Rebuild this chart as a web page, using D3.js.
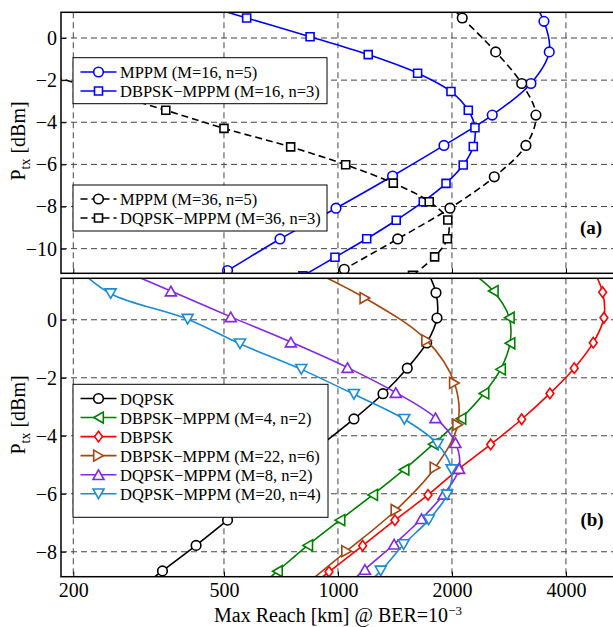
<!DOCTYPE html>
<html><head><meta charset="utf-8">
<script src="https://cdn.jsdelivr.net/npm/d3@7"></script>
<style>body{margin:0;background:#fff} svg{display:block;font-family:"Liberation Serif","Times New Roman",serif}</style>
</head><body><svg id="c" width="613" height="627"></svg>
<script>
// ---------- data ----------
const xTicks = [200, 500, 1000, 2000, 4000];
const yTicksA = [0, -2, -4, -6, -8, -10];
const yTicksB = [0, -2, -4, -6, -8];

// panel (a): power [dBm] and max reach [km]
const mppm16P = [2.29, 0.79, -0.66, -2.16, -3.66, -5.1, -6.55, -8.08, -9.54, -11.04, -12.5];
const mppm16R = [3117, 3499, 3614, 3233, 2555, 1905, 1394, 988, 703, 511, 371];
const dbpskM16P = [1.83, 0.95, 0.06, -0.79, -1.67, -2.54, -3.43, -4.26, -5.15, -6.03, -6.9, -7.77, -8.65, -9.53, -10.41, -11.29];
const dbpskM16R = [394, 574, 844, 1202, 1623, 1988, 2209, 2300, 2277, 2142, 1929, 1680, 1425, 1191, 982, 808];
const mppm36P = [2.45, 0.95, -0.66, -2.16, -3.66, -5.1, -6.59, -8.08, -9.54, -10.98, -12.5];
const mppm36R = [1750, 2129, 2609, 3056, 3333, 3136, 2587, 1976, 1438, 1039, 747];
const dqpskM36P = [-1.69, -2.56, -3.43, -4.29, -5.17, -6.02, -6.89, -7.77, -8.64, -9.53, -10.39, -11.26];
const dqpskM36R = [168, 242, 351, 500, 750, 1048, 1400, 1742, 1950, 1945, 1800, 1573];

// panel (b)
const dqpskP = [1.8, 0.93, 0.06, -0.8, -1.67, -2.55, -3.42, -4.29, -5.16, -6.04, -6.91, -7.78, -8.66, -9.53];
const dqpskR = [1703, 1815, 1826, 1715, 1524, 1315, 1102, 909, 750, 620, 511, 422, 344, 281];
const dbpskM4P = [1.86, 0.99, 0.07, -0.81, -1.71, -2.54, -3.41, -4.29, -5.17, -6.04, -6.91, -7.78, -8.67, -9.55];
const dbpskM4R = [2130, 2571, 2834, 2846, 2687, 2429, 2112, 1785, 1494, 1235, 1012, 832, 692, 578];
const dbpskP = [1.8, 0.95, 0.07, -0.79, -1.67, -2.54, -3.43, -4.3, -5.14, -6.04, -6.91, -7.79, -8.69, -9.56];
const dbpskR = [4686, 5000, 5040, 4723, 4207, 3629, 3056, 2531, 2087, 1729, 1414, 1162, 947, 775];
const dbpskM22P = [2.2, 0.75, -0.71, -2.18, -3.62, -5.1, -6.56, -7.98, -9.43];
const dbpskM22R = [703, 1178, 1715, 2030, 2071, 1804, 1423, 1054, 770];
const dqpskM8P = [1.86, 0.99, 0.1, -0.77, -1.65, -2.51, -3.38, -4.24, -5.13, -6.02, -6.86, -7.74, -8.61, -9.48];
const dqpskM8R = [253, 362, 521, 751, 1060, 1421, 1809, 2043, 2089, 1902, 1662, 1407, 1178, 994];
const dqpskM20P = [1.78, 0.9, 0.02, -0.83, -1.71, -2.57, -3.43, -4.29, -5.17, -6.04, -6.9, -7.75, -8.66, -9.53];
const dqpskM20R = [205, 251, 401, 551, 800, 1102, 1497, 1834, 1996, 1941, 1737, 1491, 1297, 1109];

const labelsA1 = ["MPPM (M=16, n=5)", "DBPSK\u2212MPPM (M=16, n=3)"];
const labelsA2 = ["MPPM (M=36, n=5)", "DQPSK\u2212MPPM (M=36, n=3)"];
const labelsB = ["DQPSK", "DBPSK\u2212MPPM (M=4, n=2)", "DBPSK", "DBPSK\u2212MPPM (M=22, n=6)", "DQPSK\u2212MPPM (M=8, n=2)", "DQPSK\u2212MPPM (M=20, n=4)"];

// ---------- layout ----------
const svg = d3.select("#c");
const L = 61, R = 616;
const x = d3.scaleLog().domain([185.6, 5423]).range([L, R]);
const yA = d3.scaleLinear().domain([-11.17, 1.22]).range([273.3, 12.3]);
const yB = d3.scaleLinear().domain([-8.86, 1.43]).range([576.7, 278.3]);

const markerPath = {
  circle: () => d3.symbol().type(d3.symbolCircle).size(Math.PI * 4.8 * 4.8)(),
  square: () => "M-4,-4H4V4H-4Z",
  left: () => "M-4.8,0L4.8,-5.5L4.8,5.5Z",
  right: () => "M4.8,0L-4.8,-5.5L-4.8,5.5Z",
  up: () => "M0,-4.8L5.5,4.8L-5.5,4.8Z",
  down: () => "M0,4.8L-5.5,-4.8L5.5,-4.8Z",
  diamond: () => "M0,-5.3L3.9,0L0,5.3L-3.9,0Z"
};

const seriesA = [
  {p: mppm16P, r: mppm16R, color: "#0000ff", marker: "circle", dash: null, label: labelsA1[0]},
  {p: dbpskM16P, r: dbpskM16R, color: "#0000ff", marker: "square", dash: null, label: labelsA1[1]},
  {p: mppm36P, r: mppm36R, color: "#000000", marker: "circle", dash: "7,4", label: labelsA2[0]},
  {p: dqpskM36P, r: dqpskM36R, color: "#000000", marker: "square", dash: "7,4", label: labelsA2[1]}
];
const seriesB = [
  {p: dqpskP, r: dqpskR, color: "#000000", marker: "circle", label: labelsB[0]},
  {p: dbpskM4P, r: dbpskM4R, color: "#008000", marker: "left", label: labelsB[1]},
  {p: dbpskP, r: dbpskR, color: "#ff0000", marker: "diamond", label: labelsB[2]},
  {p: dbpskM22P, r: dbpskM22R, color: "#a4460e", marker: "right", label: labelsB[3]},
  {p: dqpskM8P, r: dqpskM8R, color: "#8526e6", marker: "up", label: labelsB[4]},
  {p: dqpskM20P, r: dqpskM20R, color: "#1a8bd6", marker: "down", label: labelsB[5]}
];

function panel(id, y, yTicks, series) {
  const [y0, y1] = y.range();
  const top = y1, bot = y0;
  const g = svg.append("g");
  const defs = svg.append("defs");
  defs.append("clipPath").attr("id", id).append("rect")
    .attr("x", L).attr("y", top).attr("width", R - L).attr("height", bot - top);
  // grid
  const grid = g.append("g").attr("stroke", "#444").attr("stroke-width", 1).attr("stroke-dasharray", "6,4");
  grid.selectAll("line.v").data(xTicks).join("line")
    .attr("x1", d => x(d)).attr("x2", d => x(d)).attr("y1", top).attr("y2", bot);
  grid.selectAll("line.h").data(yTicks).join("line").attr("class", "h")
    .attr("x1", L).attr("x2", R).attr("y1", d => y(d)).attr("y2", d => y(d));
  // series
  const plot = g.append("g").attr("clip-path", `url(#${id})`);
  const line = d3.line().x(d => x(d[0])).y(d => y(d[1])).curve(d3.curveCatmullRom.alpha(0.5));
  series.forEach(s => {
    const pts = d3.zip(s.r, s.p);
    plot.append("path").attr("d", line(pts)).attr("fill", "none")
      .attr("stroke", s.color).attr("stroke-width", 1.6)
      .attr("stroke-dasharray", s.dash || null);
    plot.append("g").selectAll("path").data(pts).join("path")
      .attr("d", markerPath[s.marker]())
      .attr("transform", d => `translate(${x(d[0])},${y(d[1])})`)
      .attr("fill", "#fff").attr("stroke", s.color).attr("stroke-width", 1.6);
  });
  // axes
  const ax = g.append("g").attr("transform", `translate(${L},0)`)
    .call(d3.axisLeft(y).tickValues(yTicks).tickFormat(d3.format("d")).tickSizeInner(-5).tickSizeOuter(0).tickPadding(4));
  ax.select(".domain").remove();
  ax.selectAll("text").attr("font-size", 20).attr("font-family", "Liberation Serif").attr("fill", "#000");
  ax.selectAll("line").attr("stroke", "#000");
  const bx = g.append("g").attr("transform", `translate(0,${bot})`)
    .call(d3.axisBottom(x).tickValues(xTicks).tickFormat(d3.format("d")).tickSizeInner(-5).tickSizeOuter(0).tickPadding(6));
  bx.select(".domain").remove();
  bx.selectAll("line").attr("stroke", "#000");
  bx.selectAll("text").attr("font-size", 20).attr("font-family", "Liberation Serif").attr("fill", "#000");
  if (id === "clipA") bx.selectAll("text").remove();
  // box
  g.append("rect").attr("x", L).attr("y", top).attr("width", R - L).attr("height", bot - top)
    .attr("fill", "none").attr("stroke", "#000").attr("stroke-width", 1.5);
  return g;
}

const gA = panel("clipA", yA, yTicksA, seriesA);
const gB = panel("clipB", yB, yTicksB, seriesB);

function legend(items, bx, by, bw, bh, row0, step) {
  const g = svg.append("g");
  g.append("rect").attr("x", bx).attr("y", by).attr("width", bw).attr("height", bh)
    .attr("fill", "#fff").attr("stroke", "#000").attr("stroke-width", 1);
  items.forEach((s, i) => {
    const cy = row0 + i * step;
    g.append("line").attr("x1", 80.5).attr("x2", 116.5).attr("y1", cy).attr("y2", cy)
      .attr("stroke", s.color).attr("stroke-width", 1.6).attr("stroke-dasharray", s.dash || null);
    g.append("path").attr("d", markerPath[s.marker]()).attr("transform", `translate(98.5,${cy})`)
      .attr("fill", "#fff").attr("stroke", s.color).attr("stroke-width", 1.6);
    g.append("text").attr("x", 120).attr("y", cy + 6).attr("font-size", 16.5).text(s.label);
  });
}
legend(seriesA.slice(0, 2), 73, 57.7, 254, 46, 72, 19);
legend(seriesA.slice(2, 4), 73, 185, 254, 46, 199, 19);
legend(seriesB, 73, 384.3, 255, 133, 398.5, 19.05);

svg.append("text").attr("x", 591).attr("y", 234).attr("text-anchor", "middle")
  .attr("font-size", 19).attr("font-weight", "bold").text("(a)");
svg.append("text").attr("x", 592).attr("y", 526).attr("text-anchor", "middle")
  .attr("font-size", 19).attr("font-weight", "bold").text("(b)");

function ylabel(cy) {
  const t = svg.append("text").attr("transform", `translate(25,${cy}) rotate(-90)`)
    .attr("text-anchor", "middle").attr("font-size", 20);
  t.append("tspan").text("P");
  t.append("tspan").attr("dy", 5).attr("font-size", 14).text("tx");
  t.append("tspan").attr("dy", -5).text(" [dBm]");
}
ylabel(141);
ylabel(415);

const xl = svg.append("text").attr("x", 338).attr("y", 622).attr("text-anchor", "middle").attr("font-size", 20);
xl.append("tspan").text("Max Reach [km] @ BER=10");
xl.append("tspan").attr("dy", -7).attr("font-size", 13).text("\u22123");
</script></body></html>
